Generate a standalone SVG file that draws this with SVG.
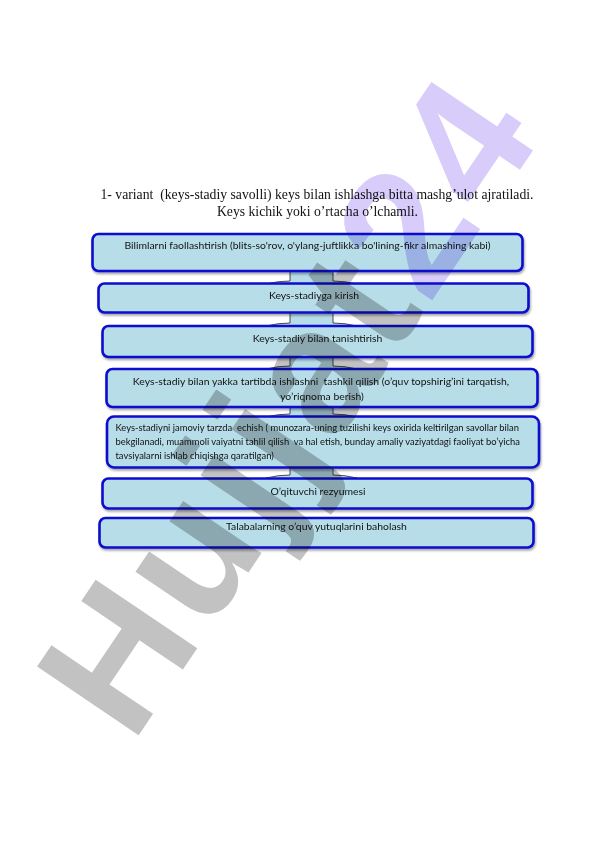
<svg xmlns="http://www.w3.org/2000/svg" width="596" height="842" viewBox="0 0 596 842">
<style>
.title{font-family:"Liberation Serif","Times New Roman",serif;font-size:13.7px;fill:#111;text-anchor:middle}
.box{fill:#b7dde8;stroke:#0a0ad0;stroke-width:2.6}
.lbl{font-family:Lato,"Open Sans",sans-serif;font-size:10.4px;fill:#111;text-anchor:middle}
.lbl5{font-family:Lato,"Open Sans",sans-serif;font-size:9.4px;fill:#111}
.arr{fill:#b7dde8;stroke:#222;stroke-width:0.8}
.wm{font-family:"Liberation Sans",Arial,sans-serif;font-weight:bold;font-size:178px;letter-spacing:6px}
</style>
<defs>
<filter id="sh" x="-5%" y="-20%" width="110%" height="150%">
<feDropShadow dx="1" dy="2" stdDeviation="1.2" flood-color="#000" flood-opacity="0.35"/>
</filter>
</defs>
<rect width="596" height="842" fill="#fff"/>
<g id="title">
<text class="title" x="317" y="199" xml:space="preserve">1- variant  (keys-stadiy savolli) keys bilan ishlashga bitta mashg’ulot ajratiladi.</text>
<text class="title" x="317.5" y="216">Keys kichik yoki o’rtacha o’lchamli.</text>
</g>
<g id="connectors">
<path class="arr" d="M290,266 V281 Q278,281 266,284 L311.5,300 L357,284 Q345,281 333,281 V266 Z"/>
<path class="arr" d="M290,307 V323 Q278,323 266,326 L311.5,342 L357,326 Q345,323 333,323 V307 Z"/>
<path class="arr" d="M290,352 V366 Q278,366 266,369 L311.5,385 L357,369 Q345,366 333,366 V352 Z"/>
<path class="arr" d="M290,402 V414 Q278,414 266,417 L311.5,433 L357,417 Q345,414 333,414 V402 Z"/>
<path class="arr" d="M290,462 V475 Q278,475 266,478 L311.5,494 L357,478 Q345,475 333,475 V462 Z"/>
</g>
<g id="n1" filter="url(#sh)">
<rect class="box" x="92.5" y="234" width="430" height="37" rx="6"/>
<text class="lbl" x="307.5" y="249.3">Bilimlarni faollashtirish (blits-so'rov, o'ylang-juftlikka bo'lining-fikr almashing kabi)</text>
</g>
<g id="n2" filter="url(#sh)">
<rect class="box" x="98.5" y="283.5" width="430" height="29" rx="6"/>
<text class="lbl" x="314" y="298.5">Keys-stadiyga kirish</text>
</g>
<g id="n3" filter="url(#sh)">
<rect class="box" x="102.5" y="326" width="430" height="31" rx="6"/>
<text class="lbl" x="317.5" y="341.7">Keys-stadiy bilan tanishtirish</text>
</g>
<g id="n4" filter="url(#sh)">
<rect class="box" x="106.5" y="369" width="431" height="38" rx="6"/>
<text class="lbl" x="321" y="385" xml:space="preserve">Keys-stadiy bilan yakka tartibda ishlashni  tashkil qilish (o’quv topshirig’ini tarqatish,</text>
<text class="lbl" x="322" y="399.5">yo’riqnoma berish)</text>
</g>
<g id="n5" filter="url(#sh)">
<rect class="box" x="107" y="416.5" width="432" height="51" rx="7"/>
<text class="lbl5" x="115.5" y="431" xml:space="preserve">Keys-stadiyni jamoviy tarzda  echish ( munozara-uning tuzilishi keys oxirida keltirilgan savollar bilan</text>
<text class="lbl5" x="115.5" y="445" xml:space="preserve">bekgilanadi, muammoli vaiyatni tahlil qilish  va hal etish, bunday amaliy vaziyatdagi faoliyat bo’yicha</text>
<text class="lbl5" x="115.5" y="458.5">tavsiyalarni ishlab chiqishga qaratilgan)</text>
</g>
<g id="n6" filter="url(#sh)">
<rect class="box" x="102.5" y="478.5" width="430" height="30" rx="6"/>
<text class="lbl" x="318" y="494.5">O’qituvchi rezyumesi</text>
</g>
<g id="n7" filter="url(#sh)">
<rect class="box" x="99.5" y="518" width="434" height="29.5" rx="6"/>
<text class="lbl" x="316.5" y="530">Talabalarning o’quv yutuqlarini baholash</text>
</g>
<g id="watermark" style="mix-blend-mode:multiply">
<text class="wm" transform="translate(132,745) rotate(-56)"><tspan fill="#c2c2c2">Hujjat</tspan><tspan fill="#d8ccfb">24</tspan></text>
</g>
</svg>
